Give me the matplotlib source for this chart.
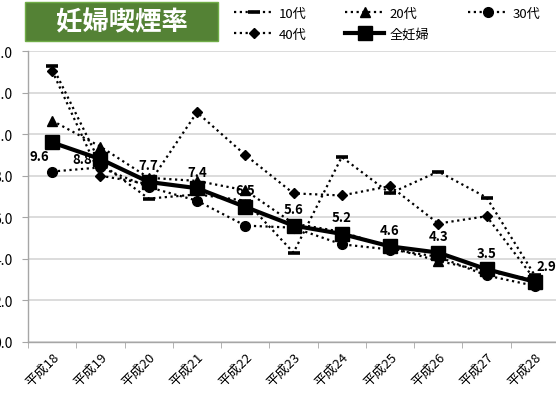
import matplotlib
matplotlib.use("Agg")
import matplotlib.pyplot as plt
from matplotlib.patches import Rectangle
import numpy as np

plt.rcParams['font.family'] = ['Noto Sans CJK JP', 'DejaVu Sans']

# data
years = ['平成18', '平成19', '平成20', '平成21', '平成22', '平成23',
         '平成24', '平成25', '平成26', '平成27', '平成28']
teens = [13.3, 8.6, 6.9, 7.1, 6.8, 4.3, 8.9, 7.15, 8.2, 6.95, 3.2]
twenties = [10.65, 9.4, 7.9, 7.75, 7.3, 5.7, 5.3, 4.55, 3.9, 3.4, 3.0]
thirties = [8.2, 8.4, 7.45, 6.8, 5.6, 5.5, 4.7, 4.45, 4.1, 3.2, 2.7]
forties = [13.05, 8.0, 7.6, 11.05, 9.0, 7.15, 7.05, 7.5, 5.7, 6.05, 3.0]
all_preg = [9.6, 8.8, 7.7, 7.4, 6.5, 5.6, 5.2, 4.6, 4.3, 3.5, 2.9]

# label offsets in points (dx, dy) for the 全妊婦 values
label_off = [(-9, -10), (-13, 0), (0, 12), (0, 12), (0, 12), (0, 12),
             (0, 12), (0, 12), (0, 12), (0, 12), (8, 11)]

W, H = 556, 414
fig = plt.figure(figsize=(W / 100, H / 100), dpi=100)
ax = fig.add_axes([28 / W, 71 / H, 531 / W, 291 / H])

x = np.arange(len(years))
dot = dict(color='black', linestyle=(0, (1, 1.6)), linewidth=1.6)

l10, = ax.plot(x, teens, marker='_', markersize=9, markeredgewidth=2.6, label='10代', **dot)
l20, = ax.plot(x, twenties, marker='^', markersize=7, label='20代', **dot)
l30, = ax.plot(x, thirties, marker='o', markersize=7, label='30代', **dot)
l40, = ax.plot(x, forties, marker='D', markersize=5, label='40代', **dot)
lall, = ax.plot(x, all_preg, color='black', linewidth=3, marker='s',
                markersize=10, label='全妊婦', zorder=5)

for i, v in enumerate(all_preg):
    ax.annotate(f'{v:.1f}', (x[i], v), xytext=label_off[i], textcoords='offset points',
                ha='center', va='center', fontsize=9.5, fontweight='bold', zorder=6)

ax.set_xlim(-0.5, len(years) - 0.5)
ax.set_ylim(0, 14)
ax.set_yticks(np.arange(0, 14.1, 2))
ax.set_yticklabels([f'{v:.1f}' for v in np.arange(0, 14.1, 2)], fontsize=10)
ax.set_xticks(x)
ax.set_xticklabels(years, rotation=45, ha='right', rotation_mode='anchor', fontsize=9.5)
ax.set_xticks(np.arange(-0.5, len(years), 1), minor=True)
ax.tick_params(axis='x', which='major', length=0, pad=6)
ax.tick_params(axis='x', which='minor', length=4, color='#a6a6a6')
ax.tick_params(axis='y', length=4, color='#a6a6a6', pad=7)

ax.grid(axis='y', color='#d9d9d9', linewidth=1.3)
ax.set_axisbelow(True)
for s in ['top', 'right']:
    ax.spines[s].set_visible(False)
for s in ['left', 'bottom']:
    ax.spines[s].set_color('#a6a6a6')
    ax.spines[s].set_linewidth(1.0)

# title box
fig.patches.append(Rectangle((25 / W, 1 - 42 / H), 193 / W, 39 / H,
                             transform=fig.transFigure, facecolor='#548235',
                             edgecolor='#70ad47', linewidth=1, zorder=10))
fig.text(122 / W, 1 - 22.5 / H, '妊婦喫煙率', color='white', fontsize=19,
         fontweight='bold', ha='center', va='center', zorder=11)

# legend (row-major order)
handles = [l10, l40, l20, lall, l30]
fig.legend(handles, [h.get_label() for h in handles], ncol=3, frameon=False,
           loc='upper left', bbox_to_anchor=(222 / W, 1 + 4 / H), fontsize=9.5,
           handlelength=3, handletextpad=0.4, columnspacing=2.9, labelspacing=0.6)

fig.savefig('out.png', dpi=100)
